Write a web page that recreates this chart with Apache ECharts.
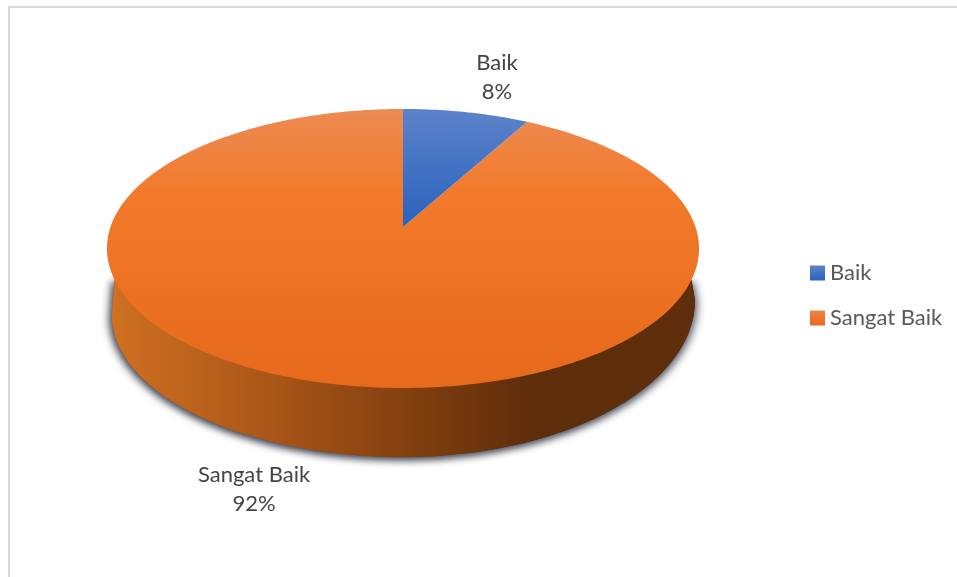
<!DOCTYPE html>
<html>
<head>
<meta charset="utf-8">
<title>Baik / Sangat Baik</title>
<script src="https://cdn.jsdelivr.net/npm/echarts@6/dist/echarts.min.js"></script>
<style>html,body{margin:0;padding:0;background:#fff}#c{width:957px;height:577px}</style>
</head>
<body>
<div id="c"></div>
<script>
// Chart values
const categories = ['Baik', 'Sangat Baik'];
const shares = [8, 92];

// Disc geometry: a circle seen in perspective, with its centre at (cx, cy)
const cx = 403, cy = 227;
const faceA = 292.5, faceB = 136.2, faceK = 0.154;
// Lower edge of the side wall, left and right of the front point
const rimLeft = { x: 403, y: 315, rx: 291, ry: 142 };
const rimRight = { x: 403, y: 300, rx: 292, ry: 157 };

const labelAnchors = { 'Baik': [497, 77], 'Sangat Baik': [254, 489] };
const fontFamily = 'Lato, "Open Sans", sans-serif';
const labelSize = 22;

const faceTop = 109, faceBottom = 388;
const faceFills = {
  'Baik': [[0, '#5c83ca'], [0.42, '#2a62bd'], [1, '#2a62bd']],
  'Sangat Baik': [[0, '#ec8b53'], [0.3, '#f37a2b'], [1, '#e7691b']]
};
const swatchFills = {
  'Baik': [[0, '#5c83ca'], [1, '#2a62bd']],
  'Sangat Baik': [[0, '#ee8548'], [1, '#e8691b']]
};
const wallFill = [[0, '#cf7022'], [0.25, '#ad5819'], [0.5, '#84400f'], [0.72, '#5e2d0a'], [1, '#5f2e0a']];

function stops(list) {
  return list.map(function (s) { return { offset: s[0], color: s[1] }; });
}

// Projects a clockwise angle from twelve o'clock onto the tilted disc
function project(angle) {
  const u = Math.sin(angle), v = -Math.cos(angle), w = 1 - faceK * v;
  return [cx + faceA * u / w, cy + faceB * v / w];
}

function startShare(index) {
  let sum = 0;
  for (let i = 0; i < index; i++) sum += shares[i];
  return sum;
}

// Outline of the visible side wall, running along the lower edge
function wallOutline() {
  const pts = [[114.5, 280]];
  for (let i = 0; i <= 60; i++) {
    const t = Math.PI / 2 * i / 60;
    pts.push([rimLeft.x - rimLeft.rx * Math.cos(t), rimLeft.y + rimLeft.ry * Math.sin(t)]);
  }
  for (let i = 1; i <= 60; i++) {
    const t = Math.PI / 2 * i / 60;
    pts.push([rimRight.x + rimRight.rx * Math.sin(t), rimRight.y + rimRight.ry * Math.cos(t)]);
  }
  pts.push([691.5, 280]);
  return pts;
}

function wallElement(offsetX, alpha) {
  return {
    type: 'polygon',
    shape: { points: wallOutline() },
    style: {
      fill: { type: 'linear', x: 0, y: 0, x2: 1, y2: 0, colorStops: stops(wallFill) },
      shadowColor: 'rgba(40,45,60,' + alpha + ')',
      shadowBlur: 9,
      shadowOffsetX: offsetX,
      shadowOffsetY: 2
    }
  };
}

function sliceRenderer(index) {
  const total = shares.reduce(function (a, b) { return a + b; }, 0);
  const name = categories[index];
  return function (params, api) {
    const value = api.value(0);
    const a0 = startShare(index) / total * Math.PI * 2;
    const a1 = a0 + value / total * Math.PI * 2;
    const children = [];

    // The side wall belongs to whichever slice spans the front of the disc
    if (a0 < Math.PI && a1 > Math.PI) {
      children.push(wallElement(-3, 0.85), wallElement(3, 0.6));
    }

    // Top face of the slice
    const pts = [[cx, cy]];
    const steps = Math.max(8, Math.ceil((a1 - a0) * 60));
    for (let i = 0; i <= steps; i++) {
      pts.push(project(a0 + (a1 - a0) * i / steps));
    }
    children.push({
      type: 'polygon',
      shape: { points: pts },
      style: {
        fill: {
          type: 'linear', x: 0, y: faceTop, x2: 0, y2: faceBottom, global: true,
          colorStops: stops(faceFills[name])
        }
      }
    });

    // Data label: category name above its percentage
    const anchor = labelAnchors[name];
    children.push({
      type: 'text',
      style: {
        text: name + '\n' + Math.round(value / total * 100) + '%',
        x: anchor[0], y: anchor[1],
        align: 'center', verticalAlign: 'middle',
        font: labelSize + 'px ' + fontFamily,
        lineHeight: 29,
        fill: '#444444'
      }
    });
    return { type: 'group', children: children };
  };
}

const chart = echarts.init(document.getElementById('c'), null, { renderer: 'canvas' });
chart.setOption({
  animation: false,
  backgroundColor: '#ffffff',
  graphic: [{
    type: 'rect',
    shape: { x: 9, y: 7, width: 1200, height: 800 },
    style: { fill: 'none', stroke: '#d9d9d9', lineWidth: 2 },
    silent: true
  }],
  legend: {
    orient: 'vertical',
    left: 805,
    top: 257,
    itemWidth: 15,
    itemHeight: 15,
    itemGap: 23,
    selectedMode: false,
    icon: 'rect',
    textStyle: { fontFamily: fontFamily, fontSize: labelSize, lineHeight: 15, color: '#595959' },
    data: categories.map(function (name) {
      return {
        name: name,
        itemStyle: {
          color: { type: 'linear', x: 0, y: 0, x2: 0, y2: 1, colorStops: stops(swatchFills[name]) }
        }
      };
    })
  },
  // The larger slice goes first so its wall stays under the smaller one
  series: [1, 0].map(function (index) {
    return {
      type: 'custom',
      name: categories[index],
      coordinateSystem: 'none',
      silent: true,
      renderItem: sliceRenderer(index),
      data: [[shares[index]]]
    };
  })
});
</script>
</body>
</html>
